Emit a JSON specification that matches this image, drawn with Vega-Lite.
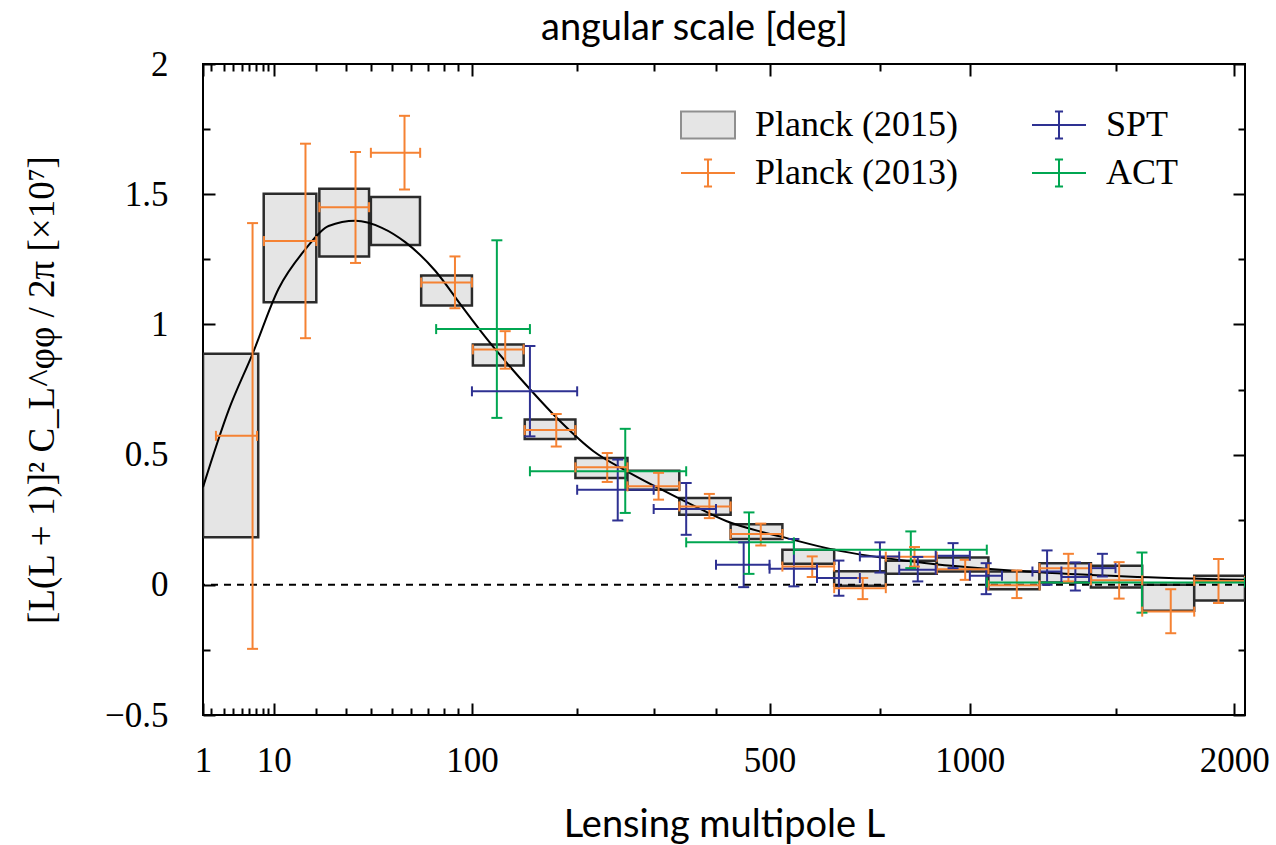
{
  "$schema": "https://vega.github.io/schema/vega-lite/v6.json",
  "width": 1042,
  "height": 651,
  "autosize": {"type": "none"},
  "padding": {"left": 203, "top": 64, "right": 31, "bottom": 130},
  "background": "white",
  "config": {
    "view": {"stroke": "black", "strokeWidth": 2},
    "axis": {"grid": false, "domain": false, "tickColor": "black", "tickWidth": 2, "labelColor": "black", "titleColor": "black"}
  },
  "datasets": {
    "pts": [
      {"series": "Planck (2015)", "L": 4, "Llo": 1.44, "Lhi": 7.3, "y": 0.535, "ylo": 0.183, "yhi": 0.887},
      {"series": "Planck (2015)", "L": 14, "Llo": 8.2, "Lhi": 20.2, "y": 1.29, "ylo": 1.085, "yhi": 1.502},
      {"series": "Planck (2015)", "L": 30, "Llo": 21.1, "Lhi": 39.2, "y": 1.39, "ylo": 1.261, "yhi": 1.521},
      {"series": "Planck (2015)", "L": 52, "Llo": 40.0, "Lhi": 65.1, "y": 1.397, "ylo": 1.305, "yhi": 1.489},
      {"series": "Planck (2015)", "L": 83, "Llo": 65.8, "Lhi": 100, "y": 1.13, "ylo": 1.073, "yhi": 1.188},
      {"series": "Planck (2015)", "L": 122, "Llo": 100.7, "Lhi": 144, "y": 0.882, "ylo": 0.842, "yhi": 0.923},
      {"series": "Planck (2015)", "L": 171, "Llo": 145, "Lhi": 198, "y": 0.597, "ylo": 0.560, "yhi": 0.635},
      {"series": "Planck (2015)", "L": 230, "Llo": 198, "Lhi": 263, "y": 0.448, "ylo": 0.410, "yhi": 0.487},
      {"series": "Planck (2015)", "L": 301, "Llo": 263, "Lhi": 339, "y": 0.401, "ylo": 0.365, "yhi": 0.438},
      {"series": "Planck (2015)", "L": 382, "Llo": 339, "Lhi": 426, "y": 0.301, "ylo": 0.269, "yhi": 0.333},
      {"series": "Planck (2015)", "L": 476, "Llo": 426, "Lhi": 526, "y": 0.204, "ylo": 0.176, "yhi": 0.233},
      {"series": "Planck (2015)", "L": 582, "Llo": 526, "Lhi": 639, "y": 0.108, "ylo": 0.081, "yhi": 0.135},
      {"series": "Planck (2015)", "L": 702, "Llo": 639, "Lhi": 765, "y": 0.024, "ylo": -0.004, "yhi": 0.052},
      {"series": "Planck (2015)", "L": 834, "Llo": 765, "Lhi": 903, "y": 0.067, "ylo": 0.042, "yhi": 0.092},
      {"series": "Planck (2015)", "L": 980, "Llo": 903, "Lhi": 1057, "y": 0.078, "ylo": 0.051, "yhi": 0.105},
      {"series": "Planck (2015)", "L": 1140, "Llo": 1057, "Lhi": 1224, "y": 0.017, "ylo": -0.017, "yhi": 0.051},
      {"series": "Planck (2015)", "L": 1315, "Llo": 1224, "Lhi": 1407, "y": 0.046, "ylo": 0.009, "yhi": 0.083},
      {"series": "Planck (2015)", "L": 1506, "Llo": 1407, "Lhi": 1605, "y": 0.032, "ylo": -0.010, "yhi": 0.073},
      {"series": "Planck (2015)", "L": 1713, "Llo": 1605, "Lhi": 1822, "y": -0.05, "ylo": -0.100, "yhi": 0.0},
      {"series": "Planck (2015)", "L": 1936, "Llo": 1822, "Lhi": 2050, "y": -0.012, "ylo": -0.060, "yhi": 0.035},
      {"series": "Planck (2013)", "L": 6.44, "Llo": 2.34, "Lhi": 7.11, "y": 0.572, "ylo": -0.246, "yhi": 1.389},
      {"series": "Planck (2013)", "L": 17.2, "Llo": 8.24, "Lhi": 20.2, "y": 1.320, "ylo": 0.947, "yhi": 1.694},
      {"series": "Planck (2013)", "L": 33.6, "Llo": 21.1, "Lhi": 39.2, "y": 1.450, "ylo": 1.236, "yhi": 1.662},
      {"series": "Planck (2013)", "L": 56.4, "Llo": 40.0, "Lhi": 65.2, "y": 1.659, "ylo": 1.518, "yhi": 1.801},
      {"series": "Planck (2013)", "L": 87.6, "Llo": 65.8, "Lhi": 100, "y": 1.161, "ylo": 1.062, "yhi": 1.261},
      {"series": "Planck (2013)", "L": 127.2, "Llo": 100.7, "Lhi": 144, "y": 0.904, "ylo": 0.830, "yhi": 0.974},
      {"series": "Planck (2013)", "L": 176.8, "Llo": 145, "Lhi": 198, "y": 0.594, "ylo": 0.531, "yhi": 0.656},
      {"series": "Planck (2013)", "L": 236.4, "Llo": 198, "Lhi": 263, "y": 0.451, "ylo": 0.395, "yhi": 0.506},
      {"series": "Planck (2013)", "L": 307.2, "Llo": 263, "Lhi": 339, "y": 0.378, "ylo": 0.327, "yhi": 0.430},
      {"series": "Planck (2013)", "L": 388.5, "Llo": 339, "Lhi": 426, "y": 0.301, "ylo": 0.256, "yhi": 0.349},
      {"series": "Planck (2013)", "L": 482.7, "Llo": 426, "Lhi": 526, "y": 0.195, "ylo": 0.151, "yhi": 0.235},
      {"series": "Planck (2013)", "L": 589.5, "Llo": 526, "Lhi": 639, "y": 0.070, "ylo": 0.030, "yhi": 0.109},
      {"series": "Planck (2013)", "L": 707, "Llo": 639, "Lhi": 765, "y": -0.013, "ylo": -0.055, "yhi": 0.026},
      {"series": "Planck (2013)", "L": 841, "Llo": 765, "Lhi": 903, "y": 0.108, "ylo": 0.070, "yhi": 0.145},
      {"series": "Planck (2013)", "L": 986, "Llo": 903, "Lhi": 1057, "y": 0.060, "ylo": 0.019, "yhi": 0.096},
      {"series": "Planck (2013)", "L": 1148, "Llo": 1057, "Lhi": 1224, "y": -0.002, "ylo": -0.051, "yhi": 0.055},
      {"series": "Planck (2013)", "L": 1325, "Llo": 1224, "Lhi": 1407, "y": 0.064, "ylo": 0.013, "yhi": 0.119},
      {"series": "Planck (2013)", "L": 1514, "Llo": 1407, "Lhi": 1605, "y": 0.017, "ylo": -0.053, "yhi": 0.087},
      {"series": "Planck (2013)", "L": 1722, "Llo": 1605, "Lhi": 1822, "y": -0.103, "ylo": -0.186, "yhi": -0.017},
      {"series": "Planck (2013)", "L": 1929, "Llo": 1822, "Lhi": 2050, "y": 0.015, "ylo": -0.070, "yhi": 0.099},
      {"series": "SPT", "L": 150, "Llo": 100, "Lhi": 200, "y": 0.743, "ylo": 0.570, "yhi": 0.917},
      {"series": "SPT", "L": 250, "Llo": 200, "Lhi": 300, "y": 0.365, "ylo": 0.247, "yhi": 0.481},
      {"series": "SPT", "L": 350, "Llo": 300, "Lhi": 400, "y": 0.291, "ylo": 0.192, "yhi": 0.391},
      {"series": "SPT", "L": 450, "Llo": 400, "Lhi": 500, "y": 0.077, "ylo": -0.009, "yhi": 0.163},
      {"series": "SPT", "L": 550, "Llo": 500, "Lhi": 600, "y": 0.062, "ylo": -0.006, "yhi": 0.176},
      {"series": "SPT", "L": 650, "Llo": 600, "Lhi": 700, "y": 0.026, "ylo": -0.042, "yhi": 0.093},
      {"series": "SPT", "L": 750, "Llo": 700, "Lhi": 800, "y": 0.109, "ylo": 0.047, "yhi": 0.163},
      {"series": "SPT", "L": 850, "Llo": 800, "Lhi": 900, "y": 0.058, "ylo": 0.013, "yhi": 0.107},
      {"series": "SPT", "L": 950, "Llo": 900, "Lhi": 1000, "y": 0.112, "ylo": 0.064, "yhi": 0.160},
      {"series": "SPT", "L": 1050, "Llo": 1000, "Lhi": 1100, "y": 0.035, "ylo": -0.036, "yhi": 0.083},
      {"series": "SPT", "L": 1250, "Llo": 1200, "Lhi": 1300, "y": 0.051, "ylo": 0.0, "yhi": 0.132},
      {"series": "SPT", "L": 1350, "Llo": 1300, "Lhi": 1400, "y": 0.030, "ylo": -0.022, "yhi": 0.086},
      {"series": "SPT", "L": 1450, "Llo": 1400, "Lhi": 1500, "y": 0.064, "ylo": 0.032, "yhi": 0.119},
      {"series": "ACT", "L": 120, "Llo": 75, "Lhi": 150, "y": 0.982, "ylo": 0.641, "yhi": 1.323},
      {"series": "ACT", "L": 260, "Llo": 150, "Lhi": 350, "y": 0.436, "ylo": 0.276, "yhi": 0.599},
      {"series": "ACT", "L": 460, "Llo": 350, "Lhi": 550, "y": 0.163, "ylo": 0.042, "yhi": 0.278},
      {"series": "ACT", "L": 831, "Llo": 550, "Lhi": 1052, "y": 0.135, "ylo": 0.064, "yhi": 0.205},
      {"series": "ACT", "L": 1604, "Llo": 1052, "Lhi": 2050, "y": 0.009, "ylo": -0.107, "yhi": 0.124}
    ],
    "curve": [
      {"L": 1.44, "y": 0.375}, {"L": 3.48, "y": 0.670}, {"L": 6.44, "y": 0.887}, {"L": 10.95, "y": 1.137},
      {"L": 17.15, "y": 1.288}, {"L": 23.96, "y": 1.378}, {"L": 33.6, "y": 1.398}, {"L": 45.0, "y": 1.371},
      {"L": 56.8, "y": 1.316}, {"L": 74.4, "y": 1.206}, {"L": 92.6, "y": 1.069}, {"L": 110.4, "y": 0.952},
      {"L": 150.3, "y": 0.75}, {"L": 181, "y": 0.628}, {"L": 219.3, "y": 0.513}, {"L": 262.3, "y": 0.436},
      {"L": 309.7, "y": 0.368}, {"L": 362, "y": 0.304}, {"L": 419, "y": 0.244}, {"L": 481, "y": 0.205},
      {"L": 521, "y": 0.186}, {"L": 637, "y": 0.135}, {"L": 875, "y": 0.083}, {"L": 1181, "y": 0.051},
      {"L": 1543, "y": 0.032}, {"L": 2050, "y": 0.019}
    ],
    "zero": [{"y": 0}]
  },
  "layer": [
    {
      "data": {"name": "pts"},
      "transform": [{"filter": "datum.series == 'Planck (2015)'"}],
      "mark": {"type": "rect", "fill": "#e5e5e5", "stroke": "#2b2b2b", "strokeWidth": 2.5, "clip": true},
      "encoding": {
        "x": {
          "field": "Llo", "type": "quantitative",
          "scale": {"type": "pow", "exponent": 0.4, "domain": [1.44, 2050], "zero": false, "nice": false},
          "axis": {
            "orient": "bottom",
            "values": [1.44, 2, 3, 4, 5, 6, 7, 8, 9, 10, 20, 30, 40, 50, 60, 70, 80, 90, 100, 200, 300, 400, 500, 750, 1000, 1500, 2000],
            "tickSize": {"condition": {"test": "datum.value < 2 || datum.value == 10 || datum.value == 100 || datum.value == 500 || datum.value == 1000 || datum.value == 2000", "value": -12}, "value": -7},
            "labelExpr": "datum.value < 2 ? '1' : ((datum.value == 10 || datum.value == 100 || datum.value == 500 || datum.value == 1000 || datum.value == 2000) ? format(datum.value, 'd') : '')",
            "labelFont": "Liberation Serif", "labelFontSize": 35, "labelPadding": 40,
            "labelFlush": false, "labelOverlap": false, "labelBound": false,
            "title": "Lensing multipole L", "titleFont": "Lato", "titleFontSize": 38, "titleFontWeight": "normal",
            "titleY": 110, "titleBaseline": "middle"
          }
        },
        "x2": {"field": "Lhi"},
        "y": {
          "field": "ylo", "type": "quantitative",
          "scale": {"domain": [-0.5, 2], "zero": false, "nice": false},
          "axis": {
            "orient": "left",
            "values": [-0.5, -0.25, 0, 0.25, 0.5, 0.75, 1, 1.25, 1.5, 1.75, 2],
            "tickSize": {"condition": {"test": "abs(datum.value * 2 - round(datum.value * 2)) < 0.001", "value": -12}, "value": -7},
            "labelExpr": "abs(datum.value * 2 - round(datum.value * 2)) < 0.001 ? (datum.value < 0 ? '−' + format(-datum.value, '') : format(datum.value, '')) : ''",
            "labelFont": "Liberation Serif", "labelFontSize": 35, "labelPadding": 47, "labelOverlap": false,
            "title": "[L(L + 1)]² C_L^φφ / 2π  [×10⁷]", "titleFont": "Liberation Serif", "titleFontSize": 37, "titleFontWeight": "normal",
            "titleX": -161, "titleY": 325.5, "titleBaseline": "middle"
          }
        },
        "y2": {"field": "yhi"}
      }
    },
    {
      "data": {"name": "zero"},
      "mark": {"type": "rule", "stroke": "black", "strokeWidth": 2, "strokeDash": [7, 6]},
      "encoding": {"y": {"field": "y", "type": "quantitative", "axis": null}}
    },
    {
      "data": {"name": "curve"},
      "mark": {"type": "line", "stroke": "black", "strokeWidth": 2, "interpolate": "monotone", "clip": true},
      "encoding": {
        "x": {
          "field": "L", "type": "quantitative",
          "axis": {
            "orient": "top",
            "values": [1.44, 2, 3, 4, 5, 6, 7, 8, 9, 10, 20, 30, 40, 50, 60, 70, 80, 90, 100, 200, 300, 400, 500, 750, 1000, 1500, 2000],
            "tickSize": {"condition": {"test": "datum.value < 2 || datum.value == 10 || datum.value == 100 || datum.value == 500 || datum.value == 1000 || datum.value == 2000", "value": -12}, "value": -7},
            "labels": false,
            "title": "angular scale [deg]", "titleFont": "Lato", "titleFontSize": 38, "titleFontWeight": "normal",
            "titleX": 491, "titleY": -36, "titleBaseline": "middle"
          }
        },
        "y": {
          "field": "y", "type": "quantitative",
          "axis": {
            "orient": "right",
            "values": [-0.5, -0.25, 0, 0.25, 0.5, 0.75, 1, 1.25, 1.5, 1.75, 2],
            "tickSize": {"condition": {"test": "abs(datum.value * 2 - round(datum.value * 2)) < 0.001", "value": -12}, "value": -7},
            "labels": false, "title": null
          }
        }
      }
    },
    {
      "data": {"name": "pts"},
      "transform": [{"filter": "datum.series != 'Planck (2015)'"}],
      "mark": {"type": "rule", "strokeWidth": 2, "clip": true},
      "encoding": {
        "x": {"field": "L", "type": "quantitative", "axis": null},
        "y": {"field": "ylo", "type": "quantitative", "axis": null},
        "y2": {"field": "yhi"},
        "color": {"field": "series", "type": "nominal", "legend": null,
          "scale": {"domain": ["Planck (2013)", "SPT", "ACT"], "range": ["#f58233", "#2e3192", "#00a651"]}}
      }
    },
    {
      "data": {"name": "pts"},
      "transform": [{"filter": "datum.series != 'Planck (2015)'"}],
      "mark": {"type": "rule", "strokeWidth": 2, "clip": true},
      "encoding": {
        "x": {"field": "Llo", "type": "quantitative", "axis": null},
        "x2": {"field": "Lhi"},
        "y": {"field": "y", "type": "quantitative", "axis": null},
        "color": {"field": "series", "type": "nominal", "legend": null}
      }
    },
    {
      "data": {"name": "pts"},
      "transform": [{"filter": "datum.series != 'Planck (2015)'"}, {"fold": ["ylo", "yhi"], "as": ["k", "v"]}],
      "mark": {"type": "point", "shape": "M-1,0H1", "size": 121, "filled": false, "strokeWidth": 2, "opacity": 1, "clip": true},
      "encoding": {
        "x": {"field": "L", "type": "quantitative", "axis": null},
        "y": {"field": "v", "type": "quantitative", "axis": null},
        "color": {"field": "series", "type": "nominal", "legend": null}
      }
    },
    {
      "data": {"name": "pts"},
      "transform": [{"filter": "datum.series != 'Planck (2015)'"}, {"fold": ["Llo", "Lhi"], "as": ["k", "v"]}],
      "mark": {"type": "point", "shape": "M0,-1V1", "size": 100, "filled": false, "strokeWidth": 2, "opacity": 1, "clip": true},
      "encoding": {
        "x": {"field": "v", "type": "quantitative", "axis": null},
        "y": {"field": "y", "type": "quantitative", "axis": null},
        "color": {"field": "series", "type": "nominal", "legend": null}
      }
    },
    {
      "data": {"name": "pts"},
      "transform": [{"filter": "datum.series != 'Planck (2015)'"}],
      "mark": {"type": "point", "size": 0, "filled": true, "strokeWidth": 2, "opacity": 1},
      "encoding": {
        "x": {"field": "L", "type": "quantitative", "axis": null},
        "y": {"field": "y", "type": "quantitative", "axis": null},
        "stroke": {
          "field": "series", "type": "nominal",
          "scale": {"domain": ["Planck (2015)", "Planck (2013)", "SPT", "ACT"], "range": ["#8f8f8f", "#f58233", "#2e3192", "#00a651"]},
          "legend": {"orient": "none", "legendX": 487, "legendY": 43, "columns": 2, "title": null, "padding": 0, "symbolSize": 729, "symbolStrokeWidth": 2, "symbolOpacity": 1, "labelFont": "Liberation Serif", "labelFontSize": 36, "labelColor": "black", "labelOffset": 29, "labelLimit": 400, "rowPadding": 12, "columnPadding": 70, "gridAlign": "each"}
        },
        "fill": {
          "field": "series", "type": "nominal",
          "scale": {"domain": ["Planck (2015)", "Planck (2013)", "SPT", "ACT"], "range": ["#e5e5e5", "transparent", "transparent", "transparent"]},
          "legend": {"orient": "none", "legendX": 487, "legendY": 43, "columns": 2, "title": null, "padding": 0, "symbolSize": 729, "symbolStrokeWidth": 2, "symbolOpacity": 1, "labelFont": "Liberation Serif", "labelFontSize": 36, "labelColor": "black", "labelOffset": 29, "labelLimit": 400, "rowPadding": 12, "columnPadding": 70, "gridAlign": "each"}
        },
        "shape": {
          "field": "series", "type": "nominal",
          "scale": {"domain": ["Planck (2015)", "Planck (2013)", "SPT", "ACT"], "range": ["M-2,-1H2V1H-2Z", "M-2,0H2M0,-1V1M-0.3,-1H0.3M-0.3,1H0.3", "M-2,0H2M0,-1V1M-0.3,-1H0.3M-0.3,1H0.3", "M-2,0H2M0,-1V1M-0.3,-1H0.3M-0.3,1H0.3"]},
          "legend": {"orient": "none", "legendX": 487, "legendY": 43, "columns": 2, "title": null, "padding": 0, "symbolSize": 729, "symbolStrokeWidth": 2, "symbolOpacity": 1, "labelFont": "Liberation Serif", "labelFontSize": 36, "labelColor": "black", "labelOffset": 29, "labelLimit": 400, "rowPadding": 12, "columnPadding": 70, "gridAlign": "each"}
        }
      }
    }
  ],
  "resolve": {"axis": {"x": "independent", "y": "independent"}}
}
